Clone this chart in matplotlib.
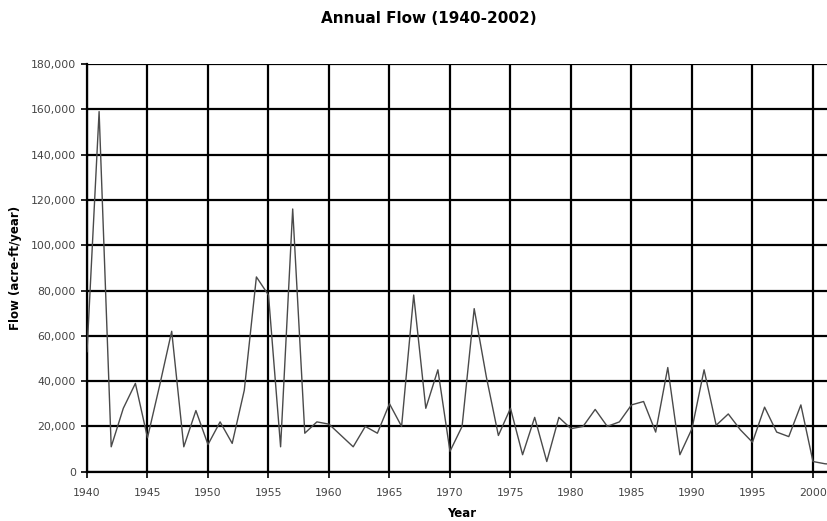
import numpy as np
import matplotlib
matplotlib.use('Agg')
import matplotlib.pyplot as plt
from matplotlib.ticker import FuncFormatter

plt.rcParams['font.family'] = ['DejaVu Sans']

# annual flow, acre-ft/year
years = list(range(1940, 2003))
flow = [53000, 159000, 11000, 28000, 39000, 15000, 38000, 62000, 11000, 27000,
        12000, 22000, 12500, 36000, 86000, 78000, 11000, 116000, 17000, 22000,
        21000, 16000, 11000, 20000, 17000, 30000, 20000, 78000, 28000, 45000,
        9000, 20000, 72000, 42000, 16000, 28000, 7500, 24000, 4500, 24000,
        19000, 20000, 27500, 20000, 22000, 29500, 31000, 17500, 46000, 7500,
        19000, 45000, 20500, 25500, 18500, 13000, 28500, 17500, 15500, 29500,
        4500, 3500, 3200]

x_ticks = list(range(1940, 2001, 5))
y_ticks = list(range(0, 180001, 20000))

fig = plt.figure(figsize=(8.27, 5.21), dpi=100)
ax = fig.add_axes([0.1052, 0.0946, 0.9071, 0.7825])

ax.plot(years, flow, color='#4a4a4a', lw=1.0, zorder=3)

ax.set_xlim(1940, 2002)
ax.set_ylim(0, 180000)
ax.set_xticks(x_ticks)
ax.set_yticks(y_ticks)
ax.yaxis.set_major_formatter(FuncFormatter(lambda v, p: '{:,}'.format(int(v))))
ax.grid(True, color='black', lw=1.6)
ax.set_axisbelow(True)
ax.tick_params(axis='both', labelsize=7.8, labelcolor='#444444', length=4,
               width=1.2, direction='out')
ax.tick_params(axis='x', pad=8)
ax.tick_params(axis='y', pad=4)
for s in ['top', 'right']:
    ax.spines[s].set_visible(False)
for s in ['left', 'bottom']:
    ax.spines[s].set_linewidth(1.6)

ax.set_xlabel('Year', fontsize=8.5, fontweight='bold', labelpad=6)
ax.set_ylabel('Flow (acre-ft/year)', fontsize=8.5, fontweight='bold', labelpad=6)
fig.text(0.519, 0.965, 'Annual Flow (1940-2002)', fontsize=11, fontweight='bold',
         ha='center', va='center')

fig.savefig('out.png', dpi=100)
